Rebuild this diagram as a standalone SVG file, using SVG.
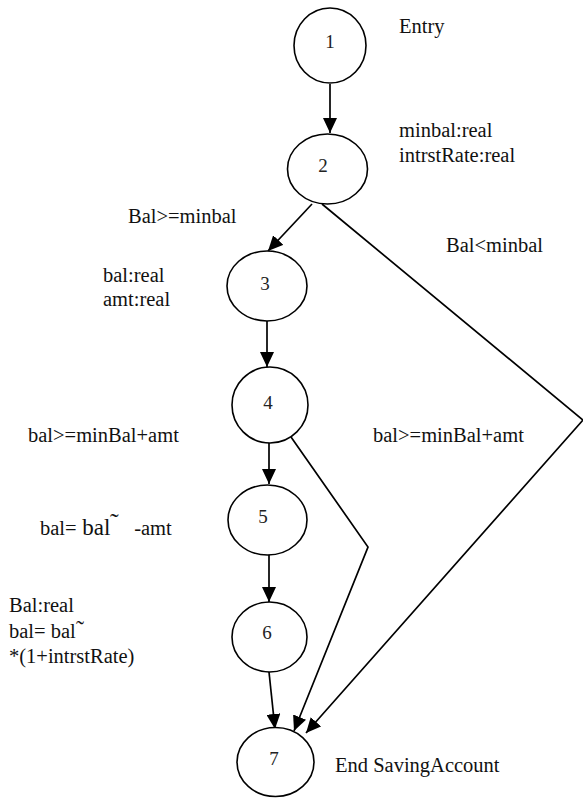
<svg xmlns="http://www.w3.org/2000/svg" width="583" height="798" viewBox="0 0 583 798">
  <style>
    .node ellipse { fill: #ffffff; stroke: #000000; stroke-width: 1.6; }
    .node text { font-family: "Liberation Serif", "DejaVu Serif", "Times New Roman", serif; font-size: 19px; fill: #222222; text-anchor: middle; }
    .edge { fill: none; stroke: #000000; stroke-width: 1.7; marker-end: url(#arrow); }
    .label { font-family: "Liberation Serif", "DejaVu Serif", "Times New Roman", serif; font-size: 20.5px; fill: #111111; }
  </style>
  <defs>
    <marker id="arrow" markerUnits="userSpaceOnUse" markerWidth="15" markerHeight="14" refX="15" refY="7" orient="auto">
      <path d="M0,0 L15,7 L0,14 z" fill="#000000"/>
    </marker>
  </defs>
  <rect width="583" height="798" fill="#ffffff"/>

  <!-- control-flow edges -->
  <g id="connectors">
    <path class="edge" d="M330,84 L330,133"/>
    <path class="edge" d="M312,204 L268,251"/>
    <path class="edge" d="M267,321 L267,367"/>
    <path class="edge" d="M269,443 L269,484"/>
    <path class="edge" d="M269,555 L269,602"/>
    <path class="edge" d="M269,672 L275,729"/>
    <path class="edge" d="M291,437 L368,547 L294,731"/>
    <path class="edge" d="M322,204 L583,420 L306,733"/>
  </g>

  <g id="node1" class="node">
    <ellipse cx="330" cy="45.5" rx="36" ry="37.5"/>
    <text x="330" y="48">1</text>
  </g>
  <g id="node2" class="node">
    <ellipse cx="327.5" cy="169" rx="40" ry="35"/>
    <text x="323" y="172">2</text>
  </g>
  <g id="node3" class="node">
    <ellipse cx="267" cy="286" rx="40" ry="35"/>
    <text x="265" y="290">3</text>
  </g>
  <g id="node4" class="node">
    <ellipse cx="270" cy="405" rx="38" ry="38"/>
    <text x="268" y="409">4</text>
  </g>
  <g id="node5" class="node">
    <ellipse cx="267.5" cy="520" rx="39.5" ry="35"/>
    <text x="263" y="523">5</text>
  </g>
  <g id="node6" class="node">
    <ellipse cx="269.5" cy="637" rx="37.5" ry="35"/>
    <text x="267" y="639">6</text>
  </g>
  <g id="node7" class="node">
    <ellipse cx="275.5" cy="762" rx="38.5" ry="34.5"/>
    <text x="274" y="765">7</text>
  </g>

  <!-- annotations -->
  <g id="annotations">
    <text class="label" x="399" y="33">Entry</text>
    <text class="label" x="399" y="137">minbal:real</text>
    <text class="label" x="399" y="162">intrstRate:real</text>
    <text class="label" x="128" y="223">Bal&gt;=minbal</text>
    <text class="label" x="446" y="252">Bal&lt;minbal</text>
    <text class="label" x="103" y="282">bal:real</text>
    <text class="label" x="103" y="306">amt:real</text>
    <text class="label" x="28" y="442">bal&gt;=minBal+amt</text>
    <text class="label" x="373" y="442">bal&gt;=minBal+amt</text>
    <text class="label" x="40" y="535">bal=<tspan font-size="23"> bal</tspan><tspan x="110" y="531" font-size="26">˜</tspan><tspan x="129" y="535"> -amt</tspan></text>
    <text class="label" x="9" y="612">Bal:real</text>
    <text class="label" x="9" y="638">bal= bal<tspan x="76" y="637" font-size="24">˜</tspan></text>
    <text class="label" x="9" y="663">*(1+intrstRate)</text>
    <text class="label" x="335" y="772">End SavingAccount</text>
  </g>
</svg>
